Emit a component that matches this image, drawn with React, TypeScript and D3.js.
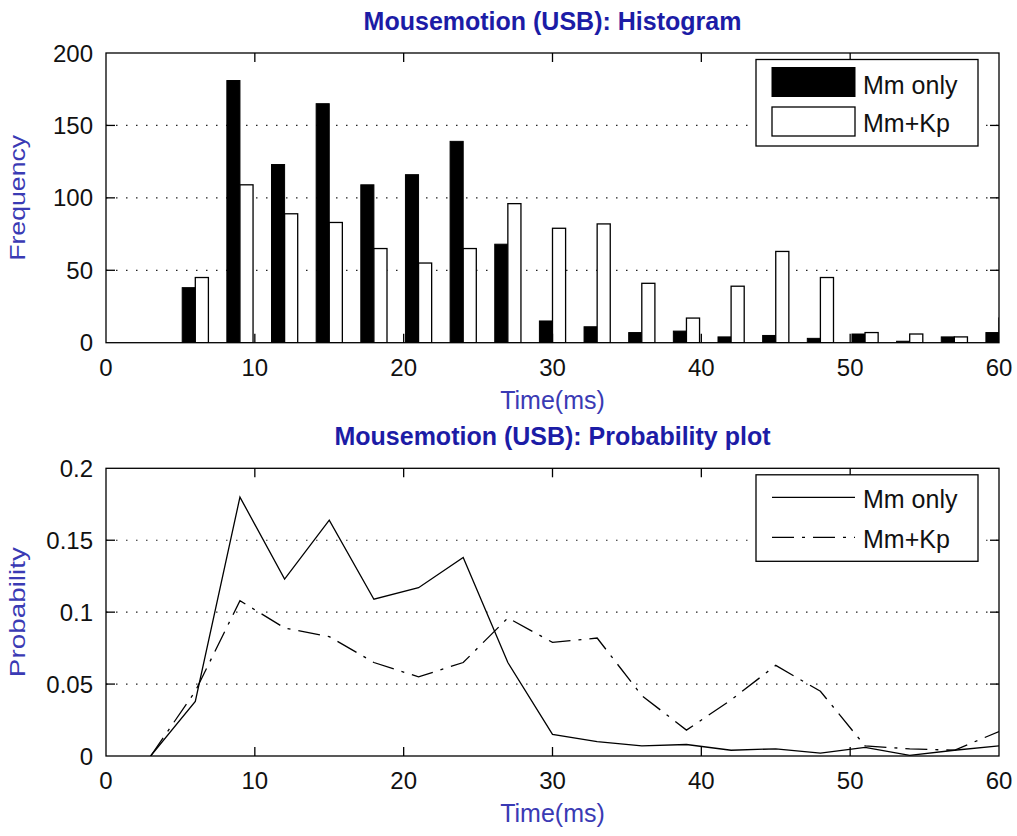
import React from "react";
import * as d3 from "d3";

const timeBins = [3, 6, 9, 12, 15, 18, 21, 24, 27, 30, 33, 36, 39, 42, 45, 48, 51, 54, 57, 60];
const mmOnlyCounts = [0, 38, 181, 123, 165, 109, 116, 139, 68, 15, 11, 7, 8, 4, 5, 3, 6, 1, 4, 7];
const mmKpCounts = [0, 45, 109, 89, 83, 65, 55, 65, 96, 79, 82, 41, 17, 39, 63, 45, 7, 6, 4, 17];
const mmOnlyProb = [0, 0.038, 0.18, 0.123, 0.164, 0.109, 0.117, 0.138, 0.065, 0.015, 0.01, 0.007, 0.008, 0.004, 0.005, 0.002, 0.006, 0.0005, 0.004, 0.007];
const mmKpProb = [0, 0.045, 0.108, 0.089, 0.083, 0.065, 0.055, 0.065, 0.096, 0.079, 0.082, 0.042, 0.018, 0.039, 0.063, 0.045, 0.007, 0.005, 0.004, 0.017];
const xTicks = [0, 10, 20, 30, 40, 50, 60];
const countTicks = [0, 50, 100, 150, 200];
const probTicks = [0, 0.05, 0.1, 0.15, 0.2];
const probTickLabels = ["0", "0.05", "0.1", "0.15", "0.2"];
const seriesNames = ["Mm only", "Mm+Kp"];

const W = 1017;
const H = 836;
const L = 106;
const R = 999;
const FONT = "'Liberation Sans', Arial, sans-serif";
const TITLE_BLUE = "#1c1ca6";
const LABEL_BLUE = "#3a3ab4";
const TICK_LEN = 9;
const DASHDOT = "22,8,3,8";

type PanelProps = {
  top: number;
  bottom: number;
  title: string;
  ylabel: string;
  ylabelLen: number;
  yTicks: number[];
  yTickLabels: string[];
  yMax: number;
  clipId: string;
  children: (x: d3.ScaleLinear<number, number>, y: d3.ScaleLinear<number, number>) => React.ReactNode;
  legend: (x0: number, y0: number) => React.ReactNode;
};

function Panel({ top, bottom, title, ylabel, ylabelLen, yTicks, yTickLabels, yMax, clipId, children, legend }: PanelProps) {
  const x = d3.scaleLinear().domain([0, 60]).range([L, R]);
  const y = d3.scaleLinear().domain([0, yMax]).range([bottom, top]);
  return (
    <g>
      <defs>
        <clipPath id={clipId}>
          <rect x={L} y={top} width={R - L} height={bottom - top} />
        </clipPath>
      </defs>
      {/* grid */}
      {yTicks.filter((t) => t > 0 && t < yMax).map((t) => (
        <line key={"g" + t} x1={L} x2={R} y1={y(t)} y2={y(t)} stroke="#222" strokeWidth={1.2} strokeDasharray="1.5,8.5" />
      ))}
      <g clipPath={`url(#${clipId})`}>{children(x, y)}</g>
      {/* frame */}
      <rect x={L} y={top} width={R - L} height={bottom - top} fill="none" stroke="#000" strokeWidth={1.3} />
      {/* x ticks */}
      {xTicks.map((t) => (
        <g key={"x" + t}>
          {t > 0 && t < 60 && (
            <>
              <line x1={x(t)} x2={x(t)} y1={bottom} y2={bottom - TICK_LEN} stroke="#000" strokeWidth={1.3} />
              <line x1={x(t)} x2={x(t)} y1={top} y2={top + TICK_LEN} stroke="#000" strokeWidth={1.3} />
            </>
          )}
          <text x={x(t)} y={bottom + 33} textAnchor="middle" fontSize={24} fontFamily={FONT} fill="#111">
            {t}
          </text>
        </g>
      ))}
      {/* y ticks */}
      {yTicks.map((t, i) => (
        <g key={"y" + t}>
          {t > 0 && t < yMax && (
            <>
              <line x1={L} x2={L + TICK_LEN} y1={y(t)} y2={y(t)} stroke="#000" strokeWidth={1.3} />
              <line x1={R} x2={R - TICK_LEN} y1={y(t)} y2={y(t)} stroke="#000" strokeWidth={1.3} />
            </>
          )}
          <text x={L - 13} y={y(t) + 8.5} textAnchor="end" fontSize={24} fontFamily={FONT} fill="#111">
            {yTickLabels[i]}
          </text>
        </g>
      ))}
      {/* title */}
      <text x={(L + R) / 2} y={top - 23} textAnchor="middle" fontSize={25} fontWeight="bold" fontFamily={FONT} fill={TITLE_BLUE}>
        {title}
      </text>
      {/* x label */}
      <text x={(L + R) / 2} y={bottom + 66} textAnchor="middle" fontSize={25} fontFamily={FONT} fill={LABEL_BLUE}>
        Time(ms)
      </text>
      {/* y label */}
      <text
        transform={`translate(25,${(top + bottom) / 2}) rotate(-90)`}
        textAnchor="middle"
        fontSize={22}
        fontFamily={FONT}
        fill={LABEL_BLUE}
        textLength={ylabelLen}
        lengthAdjust="spacingAndGlyphs"
      >
        {ylabel}
      </text>
      {legend(756, top + 6.5)}
    </g>
  );
}

export default function App() {
  const barW = 0.88;
  const histTop = 53;
  const histBottom = 342.7;
  const probTop = 468.3;
  const probBottom = 756;

  return (
    <svg width={W} height={H} style={{ position: "absolute", left: 0, top: 0, background: "#fff" }}>
      <rect x={0} y={0} width={W} height={H} fill="#fff" />
      <Panel
        top={histTop}
        bottom={histBottom}
        title="Mousemotion (USB): Histogram"
        ylabel="Frequency"
        ylabelLen={126}
        yTicks={countTicks}
        yTickLabels={countTicks.map(String)}
        yMax={200}
        clipId="clipHist"
        legend={(x0, y0) => (
          <g>
            <rect x={x0} y={y0} width={222} height={86.5} fill="#fff" stroke="#000" strokeWidth={1.3} />
            <rect x={x0 + 16} y={y0 + 8} width={83} height={29} fill="#000" stroke="#000" />
            <rect x={x0 + 16} y={y0 + 47.5} width={83} height={29} fill="#fff" stroke="#000" strokeWidth={1.3} />
            <text x={x0 + 107} y={y0 + 34} fontSize={25} fontFamily={FONT} fill="#111">{seriesNames[0]}</text>
            <text x={x0 + 107} y={y0 + 72.5} fontSize={25} fontFamily={FONT} fill="#111">{seriesNames[1]}</text>
          </g>
        )}
      >
        {(x, y) => (
          <g>
            {timeBins.map((t, i) => (
              <g key={"b" + t}>
                {mmOnlyCounts[i] > 0 && (
                  <rect
                    x={x(t - barW)}
                    y={y(mmOnlyCounts[i])}
                    width={x(t) - x(t - barW)}
                    height={y(0) - y(mmOnlyCounts[i])}
                    fill="#000"
                    stroke="#000"
                    strokeWidth={1}
                  />
                )}
                {mmKpCounts[i] > 0 && (
                  <rect
                    x={x(t)}
                    y={y(mmKpCounts[i])}
                    width={x(t + barW) - x(t)}
                    height={y(0) - y(mmKpCounts[i])}
                    fill="#fff"
                    stroke="#000"
                    strokeWidth={1.3}
                  />
                )}
              </g>
            ))}
          </g>
        )}
      </Panel>
      <Panel
        top={probTop}
        bottom={probBottom}
        title="Mousemotion (USB): Probability plot"
        ylabel="Probability"
        ylabelLen={130}
        yTicks={probTicks}
        yTickLabels={probTickLabels}
        yMax={0.2}
        clipId="clipProb"
        legend={(x0, y0) => (
          <g>
            <rect x={x0} y={y0} width={222} height={86.5} fill="#fff" stroke="#000" strokeWidth={1.3} />
            <line x1={x0 + 16} x2={x0 + 99} y1={y0 + 22.5} y2={y0 + 22.5} stroke="#000" strokeWidth={1.3} />
            <line x1={x0 + 16} x2={x0 + 99} y1={y0 + 62.5} y2={y0 + 62.5} stroke="#000" strokeWidth={1.3} strokeDasharray={DASHDOT} />
            <text x={x0 + 107} y={y0 + 33.5} fontSize={25} fontFamily={FONT} fill="#111">{seriesNames[0]}</text>
            <text x={x0 + 107} y={y0 + 73.5} fontSize={25} fontFamily={FONT} fill="#111">{seriesNames[1]}</text>
          </g>
        )}
      >
        {(x, y) => {
          const line = d3
            .line<number>()
            .x((_, i) => x(timeBins[i]))
            .y((d) => y(d));
          return (
            <g fill="none" stroke="#000" strokeWidth={1.3}>
              <path d={line(mmOnlyProb) || ""} />
              <path d={line(mmKpProb) || ""} strokeDasharray={DASHDOT} />
            </g>
          );
        }}
      </Panel>
    </svg>
  );
}
